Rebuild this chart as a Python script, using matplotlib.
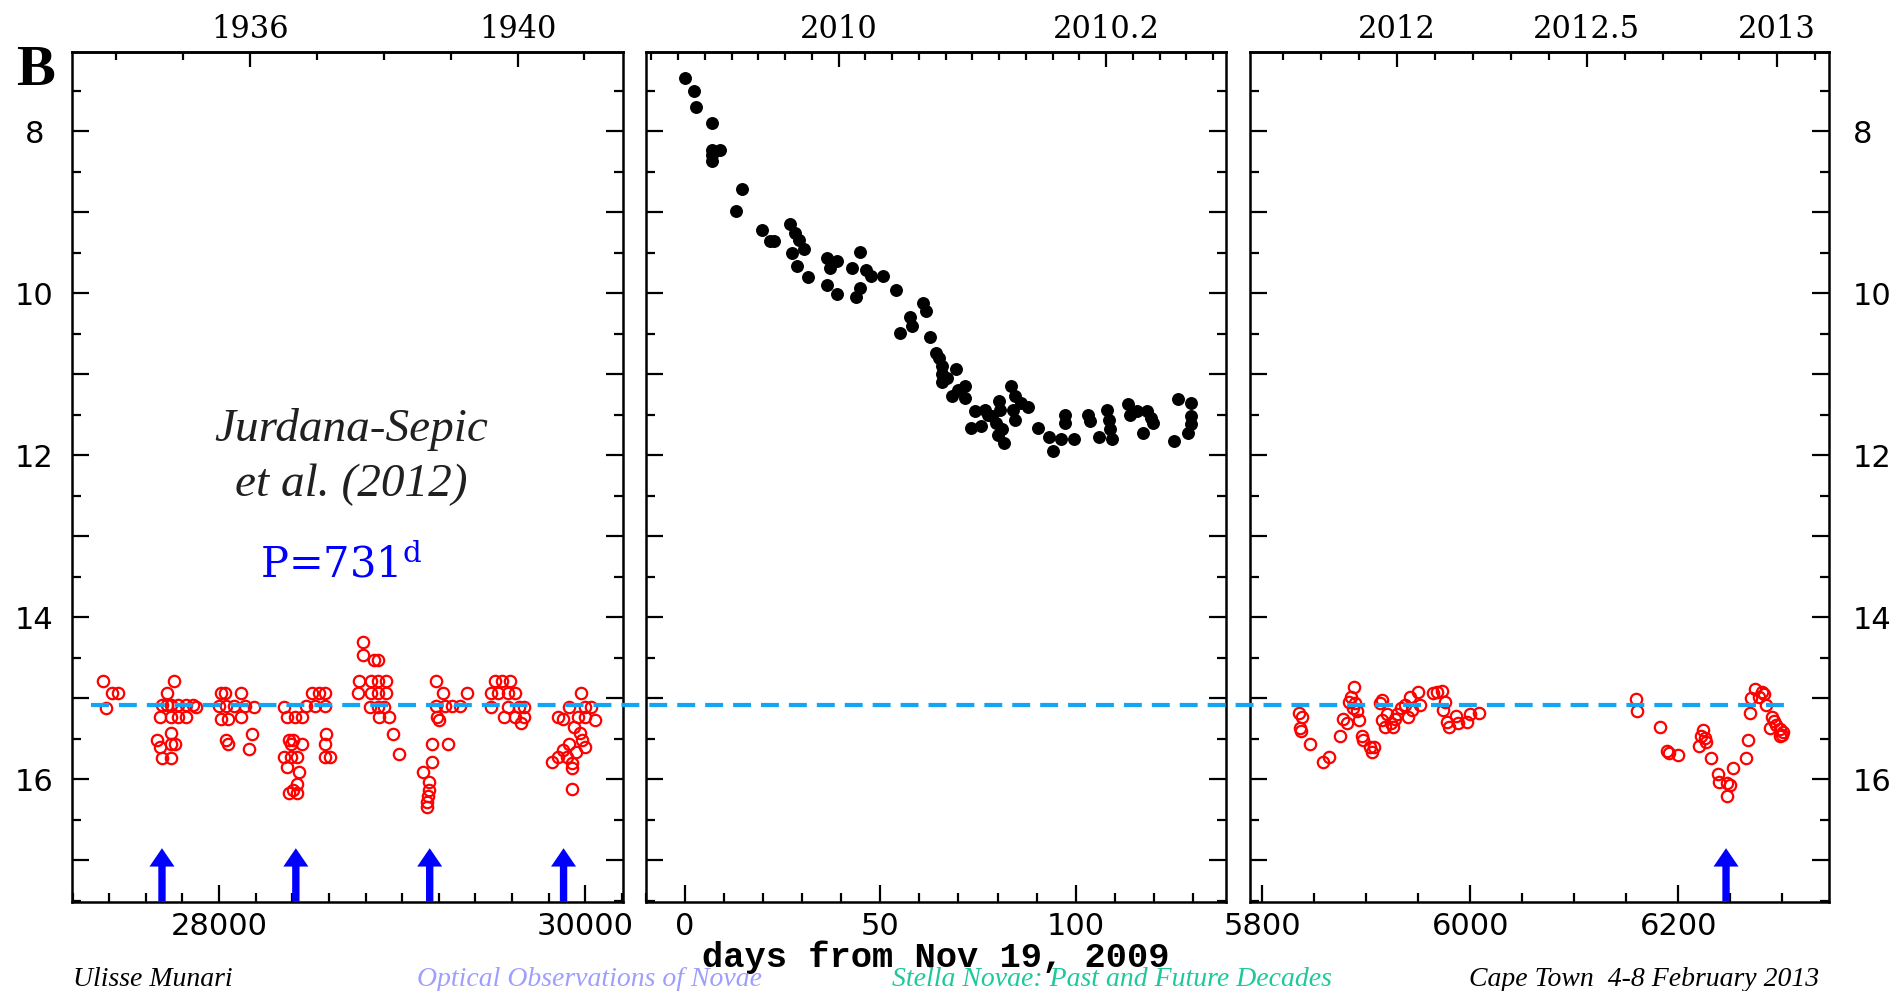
#!/usr/bin/env python
from __future__ import annotations

import matplotlib

matplotlib.use("Agg")
import matplotlib.pyplot as plt
from matplotlib.lines import Line2D
from matplotlib.patches import ArrowStyle, FancyArrowPatch
from matplotlib.ticker import FixedLocator, FuncFormatter, MultipleLocator
from matplotlib.transforms import blended_transform_factory

OUTPUT = "out.png"

# Archival plates 1934-1941, JD - 2400000
PLATE_DAY = [
    27367, 27384, 27414, 27450,
    27753, 27713, 27687, 27713, 27737, 27778, 27818, 27858,
    27677, 27737, 27778, 27818, 27660, 27737, 27737, 27757, 27677,
    27687, 27737, 27875,
    28010, 28030, 28121, 28000, 28040, 28081, 28141, 28192,
    28010, 28050, 28121, 28036, 28050, 28182, 28165,
    28357, 28368, 28414, 28454, 28384, 28404, 28394, 28454,
    28353, 28394, 28424, 28368, 28434, 28424, 28404, 28384, 28424,
    28505, 28545, 28576, 28475, 28525, 28576, 28582, 28576, 28576, 28606,
    28784, 28784, 28848, 28869, 28764, 28828, 28869, 28909,
    28758, 28828, 28869, 28909, 28824, 28869, 28899, 28873, 28929, 28950, 28980,
    29182, 29222, 29354, 29182, 29232, 29273, 29313, 29192, 29202,
    29162, 29248, 29162, 29115, 29145, 29145, 29141, 29137, 29137,
    29505, 29545, 29586, 29485, 29525, 29576, 29616,
    29485, 29576, 29636, 29667, 29556, 29616, 29667, 29647,
    29976, 29909, 30000, 30030, 29849, 29879, 29960, 30000, 30050,
    29939, 29970, 29980, 29909, 30000, 29879, 29950, 29849, 29899,
    29929, 29818, 29929, 29929,
]
PLATE_MAG = [
    14.78, 15.12, 14.94, 14.94,
    14.78, 14.94, 15.08, 15.08, 15.08, 15.08, 15.08, 15.08,
    15.23, 15.23, 15.23, 15.23, 15.51, 15.43, 15.56, 15.56, 15.60,
    15.74, 15.74, 15.11,
    14.94, 14.94, 14.94, 15.10, 15.10, 15.10, 15.10, 15.11,
    15.25, 15.25, 15.23, 15.51, 15.56, 15.44, 15.63,
    15.11, 15.23, 15.23, 15.23, 15.51, 15.51, 15.56, 15.56,
    15.72, 15.72, 15.72, 15.85, 15.91, 16.06, 16.13, 16.17, 16.17,
    14.94, 14.94, 14.94, 15.10, 15.10, 15.10, 15.44, 15.56, 15.72, 15.72,
    14.30, 14.46, 14.53, 14.53, 14.78, 14.78, 14.78, 14.78,
    14.94, 14.94, 14.94, 14.94, 15.11, 15.11, 15.11, 15.23, 15.23, 15.44, 15.69,
    14.78, 14.94, 14.94, 15.10, 15.10, 15.10, 15.10, 15.23, 15.27,
    15.56, 15.56, 15.79, 15.91, 16.03, 16.13, 16.21, 16.28, 16.34,
    14.78, 14.78, 14.78, 14.94, 14.94, 14.94, 14.94,
    15.11, 15.11, 15.11, 15.11, 15.23, 15.23, 15.23, 15.31,
    14.94, 15.11, 15.11, 15.11, 15.23, 15.25, 15.23, 15.23, 15.27,
    15.35, 15.43, 15.51, 15.56, 15.60, 15.64, 15.66, 15.72, 15.72,
    15.80, 15.79, 15.86, 16.12,
]

# 2009 outburst, days from Nov 19, 2009
OUTBURST_DAY = [
    0.0, 2.3, 2.7, 6.9, 6.9, 6.9, 6.9, 9.0,
    14.6, 12.9, 19.8, 21.7, 22.7,
    26.9, 28.2, 29.2, 27.3, 30.5, 28.6, 31.5,
    36.3, 39.0, 37.2, 36.3, 39.0,
    44.8, 42.8, 46.3, 50.7, 47.7, 44.8, 43.8,
    53.9, 60.8, 61.8, 57.5, 58.0, 55.0, 62.7,
    64.2, 64.9, 65.9, 65.9, 65.9, 69.3, 67.0,
    68.3, 70.0, 71.7, 71.7,
    73.2, 74.2, 75.8, 76.7, 77.5, 78.6, 79.6, 80.0, 80.4, 80.6, 81.1, 81.6,
    83.5, 84.0, 84.5, 84.5, 86.0, 87.9,
    90.4, 93.3, 94.3, 96.2, 97.2, 97.2, 99.7,
    103.1, 103.6, 106.0, 108.0, 108.5, 108.9, 109.4,
    113.4, 113.9, 115.8, 117.3, 118.3, 119.3, 119.8,
    125.2, 126.2, 128.7, 129.6, 129.6, 129.6,
]
OUTBURST_MAG = [
    7.35, 7.51, 7.70, 7.90, 8.23, 8.30, 8.37, 8.23,
    8.72, 8.98, 9.22, 9.35, 9.35,
    9.14, 9.26, 9.34, 9.51, 9.46, 9.67, 9.80,
    9.57, 9.60, 9.69, 9.90, 10.01,
    9.49, 9.69, 9.71, 9.79, 9.79, 9.93, 10.05,
    9.96, 10.12, 10.22, 10.29, 10.40, 10.49, 10.54,
    10.74, 10.80, 10.90, 11.00, 11.10, 10.94, 11.05,
    11.27, 11.20, 11.15, 11.29,
    11.66, 11.46, 11.64, 11.44, 11.50, 11.52, 11.60, 11.75, 11.33, 11.44, 11.68, 11.85,
    11.15, 11.44, 11.27, 11.56, 11.35, 11.41,
    11.66, 11.77, 11.95, 11.80, 11.50, 11.60, 11.80,
    11.50, 11.58, 11.77, 11.44, 11.56, 11.68, 11.80,
    11.37, 11.50, 11.46, 11.72, 11.46, 11.54, 11.60,
    11.83, 11.31, 11.72, 11.35, 11.52, 11.62,
]

# 2011-2013 quiescence
RECENT_DAY = [
    5835.7, 5838.3, 5836.8, 5837.5, 5845.6,
    5858.9, 5864.0,
    5875.1, 5877.3, 5881.7,
    5883.5, 5885.4, 5888.3, 5889.1, 5890.9, 5892.7, 5887.2,
    5895.7, 5897.1, 5903.8, 5905.6, 5907.5,
    5913.0, 5914.8, 5915.5, 5918.5, 5920.3, 5924.0, 5925.9, 5927.7, 5929.5,
    5933.2, 5936.9, 5940.6, 5942.4, 5944.3, 5949.8, 5951.6,
    5964.5, 5968.2, 5973.0, 5975.5, 5973.7,
    5977.4, 5979.2, 5986.6, 5988.4, 5996.5, 5999.5, 6008.7,
    6159.5, 6160.3, 6182.3,
    6189.0, 6190.8, 6200.0,
    6220.3, 6222.1, 6223.9, 6225.8, 6226.9, 6231.3,
    6237.9, 6239.4, 6246.7, 6249.7, 6246.7, 6252.6,
    6265.2, 6267.4, 6268.8,
    6270.0, 6273.6, 6277.3, 6281.0, 6282.8, 6284.7,
    6288.3, 6290.2, 6292.0, 6293.9, 6297.5, 6298.3, 6299.4, 6301.2,
]
RECENT_MAG = [
    15.18, 15.23, 15.36, 15.40, 15.56,
    15.79, 15.73,
    15.46, 15.26, 15.31,
    15.04, 14.98, 14.86, 15.06, 15.16, 15.27, 15.12,
    15.47, 15.51, 15.60, 15.66, 15.60,
    15.06, 15.02, 15.27, 15.35, 15.19, 15.31, 15.35, 15.25, 15.19,
    15.12, 15.08, 15.23, 14.98, 15.14, 14.92, 15.08,
    14.94, 14.92, 14.91, 15.04, 15.14,
    15.29, 15.35, 15.22, 15.31, 15.29, 15.19, 15.18,
    15.01, 15.16, 15.35,
    15.65, 15.68, 15.70,
    15.59, 15.47, 15.39, 15.49, 15.54, 15.74,
    15.93, 16.03, 16.05, 16.07, 16.21, 15.86,
    15.74, 15.51, 15.18,
    15.00, 14.89, 14.98, 14.92, 14.95, 15.08,
    15.36, 15.23, 15.28, 15.33, 15.38, 15.47, 15.45, 15.41,
]

PERIOD = 731
PLATE_MINIMA = [27688, 28419, 29150, 29881]  # spaced by PERIOD
RECENT_MINIMA = [6246]
QUIESCENT_MAG = 15.08

MAG_TICKS = [8, 9, 10, 11, 12, 13, 14, 15, 16, 17]
DAY_TICKS = ([28000, 30000], [0, 50, 100], [5800, 6000, 6200])
YEAR_TICKS = ([1936, 1940], [2010.0, 2010.2], [2012.0, 2012.5, 2013.0])

RED = "#FF0000"
BLUE = "#0000FF"
DASH_BLUE = "#12A5F4"

BOTTOM, HEIGHT = 0.0901, 0.8577
YLIM = (17.51, 7.02)


def style_panel(ax, xlim, xticks, xminor, side):
    ax.set_xlim(*xlim)
    ax.set_ylim(*YLIM)
    ax.xaxis.set_major_locator(FixedLocator(xticks))
    ax.xaxis.set_minor_locator(MultipleLocator(xminor))
    ax.xaxis.set_major_formatter(FuncFormatter(lambda v, _: f"{v:.0f}"))
    ax.set_yticks(MAG_TICKS, labels=[str(m) if m % 2 == 0 else "" for m in MAG_TICKS])
    ax.yaxis.set_minor_locator(MultipleLocator(0.5))
    ax.tick_params(which="both", direction="in", top=False, right=True,
                   width=1.6, labelsize=22, colors="black")
    ax.tick_params(which="major", length=12)
    ax.tick_params(which="minor", length=6.5)
    ax.tick_params(axis="x", pad=7.5)
    ax.tick_params(axis="y", labelleft=(side == "left"), labelright=(side == "right"))
    if side == "left":
        ax.tick_params(axis="y", pad=27)
        for lbl in ax.get_yticklabels():
            lbl.set_horizontalalignment("center")
    elif side == "right":
        ax.tick_params(axis="y", pad=17)
    for spine in ax.spines.values():
        spine.set_linewidth(1.8)


def year_axis(ax, day0, year0, days_per_year, ticks, minor):
    def fwd(d):
        return year0 + (d - day0) / days_per_year

    def inv(y):
        return day0 + (y - year0) * days_per_year

    sec = ax.secondary_xaxis("top", functions=(fwd, inv))
    sec.xaxis.set_major_locator(FixedLocator(ticks))
    sec.xaxis.set_minor_locator(MultipleLocator(minor))
    sec.xaxis.set_major_formatter(FuncFormatter(lambda v, _: f"{round(v, 2):g}"))
    sec.tick_params(which="both", direction="in", width=1.6, labelsize=22,
                    pad=5.0, labelfontfamily="DejaVu Serif")
    sec.tick_params(which="major", length=11)
    sec.tick_params(which="minor", length=5.5)
    sec.spines["top"].set_linewidth(1.8)
    return sec


def add_minimum_arrows(ax, days):
    style = ArrowStyle.Simple(head_length=1.32, head_width=1.8, tail_width=0.53)
    for d in days:
        ax.add_patch(FancyArrowPatch(
            posA=(d, YLIM[0]), posB=(d, 16.85), arrowstyle=style,
            mutation_scale=10, color=BLUE, lw=0, shrinkA=0, shrinkB=0,
            zorder=3, clip_on=False,
        ))


def main() -> int:
    plt.rcParams["font.family"] = "DejaVu Sans"
    plt.rcParams["mathtext.fontset"] = "dejavuserif"

    fig = plt.figure(figsize=(19.01, 9.91), dpi=100)
    ax1 = fig.add_axes([0.03772, BOTTOM, 0.28985, HEIGHT])
    ax2 = fig.add_axes([0.33967, BOTTOM, 0.30500, HEIGHT])
    ax3 = fig.add_axes([0.65734, BOTTOM, 0.30500, HEIGHT])

    style_panel(ax1, (27195, 30204), DAY_TICKS[0], 200, "left")
    style_panel(ax2, (-10.1, 138.4), DAY_TICKS[1], 10, None)
    style_panel(ax3, (5787.9, 6345.4), DAY_TICKS[2], 50, "right")

    year_axis(ax1, 28169.0, 1936.0, 365.25, YEAR_TICKS[0], 1)
    year_axis(ax2, 39.3, 2010.0, 342.5, YEAR_TICKS[1], 0.02)
    year_axis(ax3, 5929.5, 2012.0, 365.25, YEAR_TICKS[2], 0.1)

    open_circle = dict(linestyle="none", marker="o", markersize=8.2,
                       markerfacecolor="none", markeredgecolor=RED,
                       markeredgewidth=1.6, zorder=2)
    ax1.plot(PLATE_DAY, PLATE_MAG, **open_circle)
    ax3.plot(RECENT_DAY, RECENT_MAG, **open_circle)
    ax2.plot(OUTBURST_DAY, OUTBURST_MAG, linestyle="none", marker="o",
             markersize=8.3, color="black", zorder=2)

    add_minimum_arrows(ax1, PLATE_MINIMA)
    add_minimum_arrows(ax3, RECENT_MINIMA)

    # quiescence level, running across all three panels
    trans = blended_transform_factory(fig.transFigure, ax1.transData)
    fig.add_artist(Line2D([0.0479, 0.9421], [QUIESCENT_MAG, QUIESCENT_MAG],
                          transform=trans, color=DASH_BLUE, lw=3,
                          linestyle=(0, (4.3, 2.4)), zorder=5))

    ax1.text(0.508, 0.555, "Jurdana-Sepic", transform=ax1.transAxes,
             ha="center", va="center", fontsize=34, style="italic",
             family="Liberation Serif", color="#202020")
    ax1.text(0.508, 0.490, "et al. (2012)", transform=ax1.transAxes,
             ha="center", va="center", fontsize=34, style="italic",
             family="Liberation Serif", color="#202020")
    ax1.text(0.49, 0.396, rf"P={PERIOD}$^{{\mathrm{{d}}}}$", transform=ax1.transAxes,
             ha="center", va="center", fontsize=30, family="DejaVu Serif",
             color=BLUE)

    fig.text(0.0189, 0.928, "B", ha="center", va="center", fontsize=42,
             fontweight="bold", family="Liberation Serif")
    fig.text(0.4922, 0.0345, "days from Nov 19, 2009", ha="center", va="center",
             fontsize=25.5, fontweight="bold", family="Liberation Mono")

    footer = dict(va="center", fontsize=20, style="italic", family="Liberation Serif")
    fy = 0.0112
    fig.text(0.0384, fy, "Ulisse Munari", ha="left", color="black", **footer)
    fig.text(0.310, fy, "Optical Observations of Novae", ha="center",
             color="#9E9EFF", **footer)
    fig.text(0.585, fy, "Stella Novae: Past and Future Decades", ha="center",
             color="#1CC99B", **footer)
    fig.text(0.957, fy, "Cape Town  4-8 February 2013", ha="right",
             color="black", **footer)

    fig.savefig(OUTPUT, dpi=100)
    plt.close(fig)
    return 0


if __name__ == "__main__":
    raise SystemExit(main())
